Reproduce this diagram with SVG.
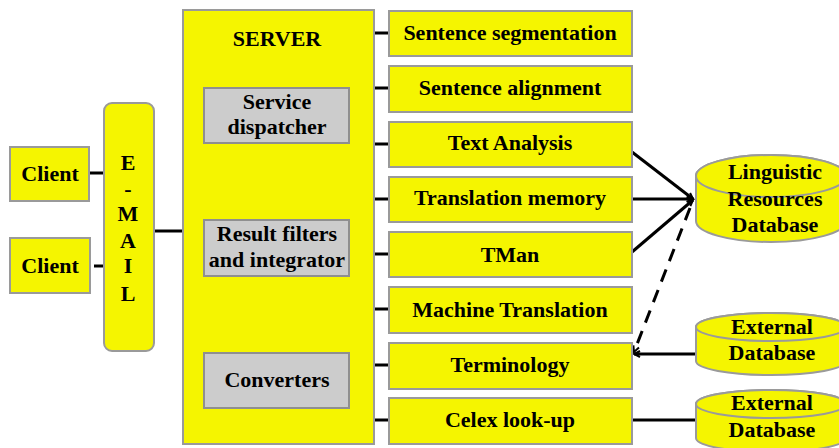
<svg xmlns="http://www.w3.org/2000/svg" width="839" height="448" viewBox="0 0 839 448">
<defs>
<style>
.box{fill:#f5f500;stroke:#9a9a9a;stroke-width:2}
.gbox{fill:#cccccc;stroke:#8f8f8f;stroke-width:2}
.t{font-family:"Liberation Serif","Times New Roman",serif;font-weight:bold;font-size:22px;fill:#000;text-anchor:middle}
.ln{stroke:#000;stroke-width:3;fill:none}
.dash{stroke:#000;stroke-width:3;fill:none;stroke-dasharray:13 9}
</style>
<marker id="ah" markerWidth="10" markerHeight="10" refX="8" refY="5" orient="auto" markerUnits="userSpaceOnUse">
<path d="M2,2 L8,5 L2,8" fill="none" stroke="#000" stroke-width="2"/>
</marker>
</defs>
<rect width="839" height="448" fill="#fff"/>

<g id="connectors">
<line class="ln" x1="89" y1="173" x2="104" y2="173"/>
<line class="ln" x1="94" y1="266" x2="104" y2="266"/>
<line class="ln" x1="154" y1="231" x2="183" y2="231"/>
<line class="ln" x1="374" y1="33" x2="389" y2="33"/>
<line class="ln" x1="374" y1="88" x2="389" y2="88"/>
<line class="ln" x1="374" y1="144" x2="389" y2="144"/>
<line class="ln" x1="374" y1="199" x2="389" y2="199"/>
<line class="ln" x1="374" y1="254" x2="389" y2="254"/>
<line class="ln" x1="374" y1="309" x2="389" y2="309"/>
<line class="ln" x1="374" y1="365" x2="389" y2="365"/>
<line class="ln" x1="374" y1="420" x2="389" y2="420"/>
<line class="ln" x1="632" y1="152" x2="693" y2="199" marker-end="url(#ah)"/>
<line class="ln" x1="632" y1="199" x2="693" y2="199" marker-end="url(#ah)"/>
<line class="ln" x1="632" y1="252" x2="693" y2="200" marker-end="url(#ah)"/>
<line class="dash" x1="690" y1="208" x2="634" y2="352" marker-end="url(#ah)"/>
<line class="ln" x1="696" y1="354" x2="634" y2="354" marker-end="url(#ah)"/>
<line class="ln" x1="632" y1="420" x2="696" y2="420"/>
</g>

<g id="client1"><rect class="box" x="10" y="147" width="79" height="54"/><text class="t" x="50" y="181">Client</text></g>
<g id="client2"><rect class="box" x="10" y="238" width="80" height="55"/><text class="t" x="50" y="273">Client</text></g>

<g id="email"><rect class="box" x="104" y="103" width="50" height="248" rx="8"/>
<text class="t" x="128" y="170">E</text>
<text class="t" x="128" y="196">-</text>
<text class="t" x="128" y="221">M</text>
<text class="t" x="128" y="248">A</text>
<text class="t" x="128" y="273">I</text>
<text class="t" x="128" y="301">L</text>
</g>

<g id="server"><rect class="box" x="183" y="10" width="191" height="434"/><text class="t" x="277" y="46">SERVER</text></g>
<g id="dispatcher"><rect class="gbox" x="204" y="88" width="145" height="55"/><text class="t" x="277" y="109">Service</text><text class="t" x="277" y="134">dispatcher</text></g>
<g id="filters"><rect class="gbox" x="204" y="220" width="145" height="56"/><text class="t" x="277" y="241">Result filters</text><text class="t" x="277" y="267">and integrator</text></g>
<g id="converters"><rect class="gbox" x="204" y="353" width="145" height="55"/><text class="t" x="277" y="387">Converters</text></g>

<g id="seg"><rect class="box" x="389" y="11" width="243" height="45"/><text class="t" x="510" y="40">Sentence segmentation</text></g>
<g id="align"><rect class="box" x="389" y="66" width="243" height="46"/><text class="t" x="510" y="95">Sentence alignment</text></g>
<g id="textanalysis"><rect class="box" x="389" y="122" width="243" height="45"/><text class="t" x="510" y="150">Text Analysis</text></g>
<g id="tm"><rect class="box" x="389" y="177" width="243" height="45"/><text class="t" x="510" y="205">Translation memory</text></g>
<g id="tman"><rect class="box" x="389" y="232" width="243" height="45"/><text class="t" x="510" y="262">TMan</text></g>
<g id="mt"><rect class="box" x="389" y="287" width="243" height="46"/><text class="t" x="510" y="317">Machine Translation</text></g>
<g id="terminology"><rect class="box" x="389" y="343" width="243" height="46"/><text class="t" x="510" y="372">Terminology</text></g>
<g id="celex"><rect class="box" x="389" y="398" width="243" height="46"/><text class="t" x="510" y="427">Celex look-up</text></g>

<g id="lingdb">
<path class="box" d="M696,176 L696,221 A75,21 0 0 0 846,221 L846,176 A75,21 0 0 0 696,176 Z"/>
<ellipse class="box" cx="771" cy="176" rx="75" ry="21"/>
<text class="t" x="775" y="179">Linguistic</text>
<text class="t" x="775" y="206">Resources</text>
<text class="t" x="775" y="232">Database</text>
</g>
<g id="extdb1">
<path class="box" d="M696,327 L696,361 A75,14 0 0 0 846,361 L846,327 A75,14 0 0 0 696,327 Z"/>
<ellipse class="box" cx="771" cy="327" rx="75" ry="14"/>
<text class="t" x="772" y="334">External</text>
<text class="t" x="772" y="360">Database</text>
</g>
<g id="extdb2">
<path class="box" d="M696,404 L696,438 A75,14 0 0 0 846,438 L846,404 A75,14 0 0 0 696,404 Z"/>
<ellipse class="box" cx="771" cy="404" rx="75" ry="14"/>
<text class="t" x="772" y="410">External</text>
<text class="t" x="772" y="437">Database</text>
</g>
</svg>
